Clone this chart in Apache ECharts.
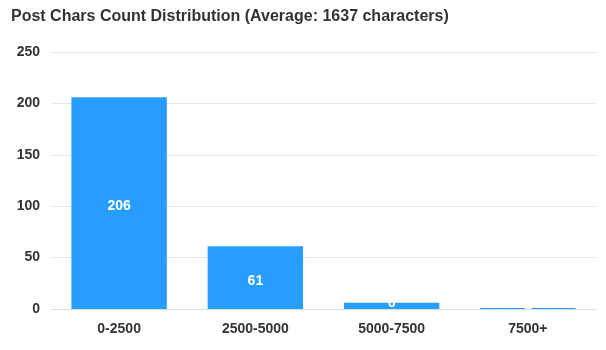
<!DOCTYPE html>
<html>
<head>
<meta charset="utf-8">
<script src="https://cdn.jsdelivr.net/npm/echarts@6/dist/echarts.min.js"></script>
<style>
  html, body { margin: 0; padding: 0; background: #fff; }
  #chart { width: 606px; height: 350px; }
</style>
</head>
<body>
<div id="chart"></div>
<script>
// Length buckets (characters per post) and how many posts fall in each
const categories = ['0-2500', '2500-5000', '5000-7500', '7500+'];
const counts = [206, 61, 6, 1];
const titleText = 'Post Chars Count Distribution (Average: 1637 characters)';

const FONT = 'Liberation Sans, Arial, sans-serif';

// very short bars get their value label nudged up a little
const barData = counts.map(v => v < 10
  ? { value: v, label: { offset: [0, -3] } }
  : { value: v });

const chart = echarts.init(document.getElementById('chart'), null, { renderer: 'canvas' });
chart.setOption({
  animation: false,
  title: {
    text: titleText,
    left: 6,
    top: 4,
    textStyle: { fontFamily: FONT, fontSize: 16, fontWeight: 'bold', color: '#333' }
  },
  grid: { left: 51, right: 10, top: 52, bottom: 41 },
  xAxis: {
    type: 'category',
    data: categories,
    axisLine: { lineStyle: { color: '#ddd' } },
    axisTick: { lineStyle: { color: '#ddd' } },
    axisLabel: { fontFamily: FONT, fontSize: 14, fontWeight: 'bold', color: '#333', margin: 13 }
  },
  yAxis: {
    type: 'value',
    min: 0,
    max: 250,
    interval: 50,
    axisLine: { show: false },
    axisTick: { show: false },
    splitLine: { lineStyle: { color: '#e6e6e6' } },
    axisLabel: { fontFamily: FONT, fontSize: 14, fontWeight: 'bold', color: '#333', margin: 11 }
  },
  series: [{
    type: 'bar',
    data: barData,
    barWidth: '70%',
    itemStyle: { color: '#279dff' },
    label: {
      show: true,
      position: 'inside',
      offset: [0, 3],
      color: '#fff',
      fontFamily: FONT,
      fontSize: 14,
      fontWeight: 'bold'
    }
  }]
});
</script>
</body>
</html>
